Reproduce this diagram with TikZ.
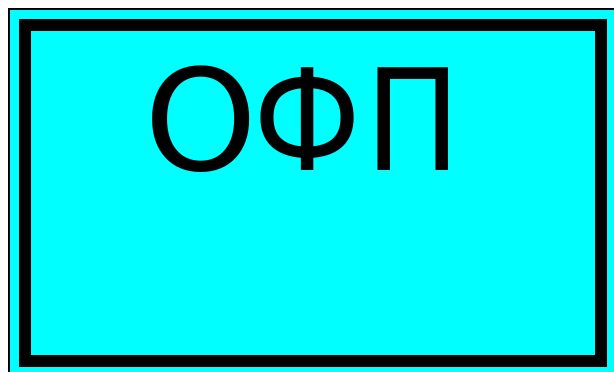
\documentclass[tikz,border=0pt]{standalone}
\usepackage{fontspec}
\usepackage{graphicx}
\setmainfont{DejaVu Sans}
\definecolor{aqua}{RGB}{0,255,255}
\tikzset{
  frame/.style={draw=black, line width=12pt},
  bigtext/.style={font=\fontsize{141}{141}\selectfont, inner sep=0pt, anchor=base}
}
\begin{document}
\begin{tikzpicture}[x=1pt, y=1pt, line cap=rect, line join=miter]
    \useasboundingbox (0,0) rectangle (614,372);
    \draw[fill=aqua, line width=2pt] (9,363) rectangle (640,-20);
    \draw[frame] (25,347) rectangle (601,11);
    \node[bigtext] (ofp) at (302.7,201) {\scalebox{1.02}[1]{О}\kern-3.9pt\scalebox{0.89}[1]{Ф}\kern4.6pt\scalebox{0.9}[1]{П}};
  \end{tikzpicture}
\end{document}
